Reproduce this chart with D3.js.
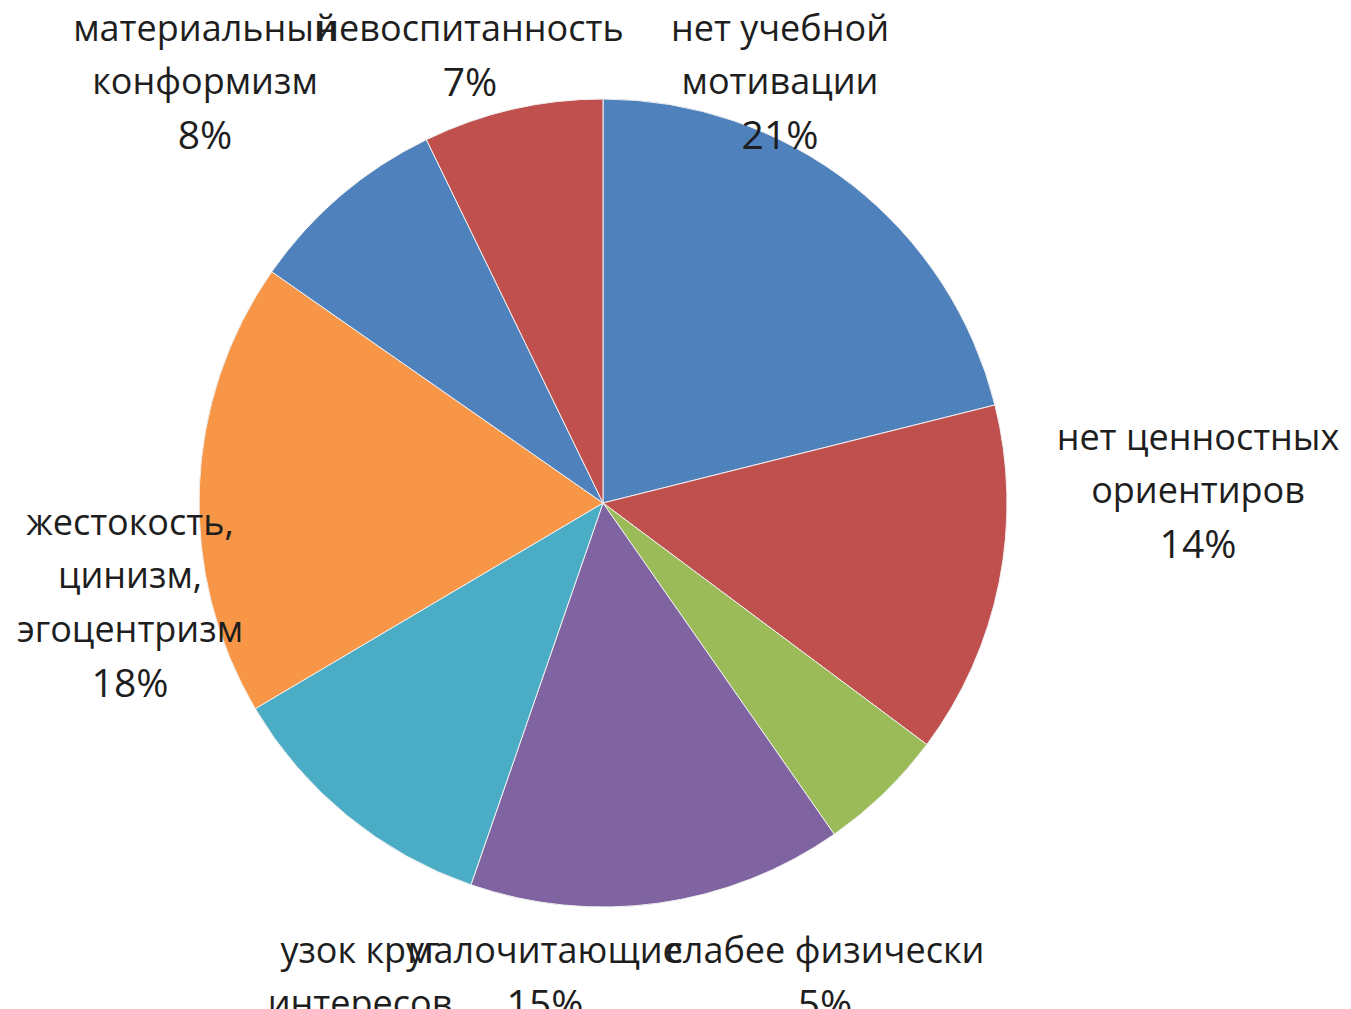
<!DOCTYPE html>
<html>
<head>
<meta charset="utf-8">
<script src="https://cdn.jsdelivr.net/npm/d3@7"></script>
<style>
  body { margin: 0; background: #fff; }
  svg { display: block; }
</style>
</head>
<body>
<div id="chart"></div>
<script>
// slice names, values and labels shown
var categories = ["нет учебной мотивации", "нет ценностных ориентиров", "слабее физически",
    "малочитающие", "узок круг интересов", "жестокость, цинизм, эгоцентризм",
    "материальный конформизм", "невоспитанность"];
var values = [21.1, 14.1, 5.1, 15.0, 11.2, 18.2, 8.1, 7.2];
var percentLabels = ["21%", "14%", "5%", "15%", "11%", "18%", "8%", "7%"];
var labelLines = [
    ["нет учебной", "мотивации"],
    ["нет ценностных", "ориентиров"],
    ["слабее физически"],
    ["малочитающие"],
    ["узок круг", "интересов"],
    ["жестокость,", "цинизм,", "эгоцентризм"],
    ["материальный", "конформизм"],
    ["невоспитанность"]
];
var colors = ["#4F81BD", "#C0504D", "#9BBB59", "#8064A2", "#4BACC6", "#F79646", "#4F81BD", "#C0504D"];

var width = 1351, height = 1009;
var cx = 603, cy = 503, radius = 404;

var svg = d3.select("#chart")
    .append("svg")
    .attr("width", width)
    .attr("height", height);

var pie = d3.pie().sort(null).value(function (d) { return d; });
var arc = d3.arc().innerRadius(0).outerRadius(radius);
var arcs = pie(values);

var g = svg.append("g").attr("transform", "translate(" + cx + "," + cy + ")");

g.selectAll("path")
    .data(arcs)
    .enter()
    .append("path")
    .attr("d", arc)
    .attr("fill", function (d, i) { return colors[i]; })
    .attr("stroke", "#f0f0f0")
    .attr("stroke-width", 1);

// label anchors (centre x, first line y), placed like Excel "best fit"
var labelPos = [
    [780, 28], [1198, 437], [825, 950], [545, 950],
    [360, 950], [130, 522], [205, 28], [470, 28]
];
var lineH = 53.5;
var drawOrder = [6, 7, 0, 1, 5, 4, 3, 2];

drawOrder.forEach(function (i) {
    var lines = labelLines[i].concat([percentLabels[i]]);
    var t = svg.append("text")
        .attr("text-anchor", "middle")
        .style("font-family", "'Open Sans', 'Noto Sans', sans-serif")
        .style("fill", "#1e1e1e");
    lines.forEach(function (s, k) {
        t.append("tspan")
            .attr("x", labelPos[i][0])
            .attr("y", labelPos[i][1] + k * lineH)
            .attr("dy", "0.36em")
            .style("font-size", k === lines.length - 1 ? "39px" : "36px")
            .text(s);
    });
});
</script>
</body>
</html>
